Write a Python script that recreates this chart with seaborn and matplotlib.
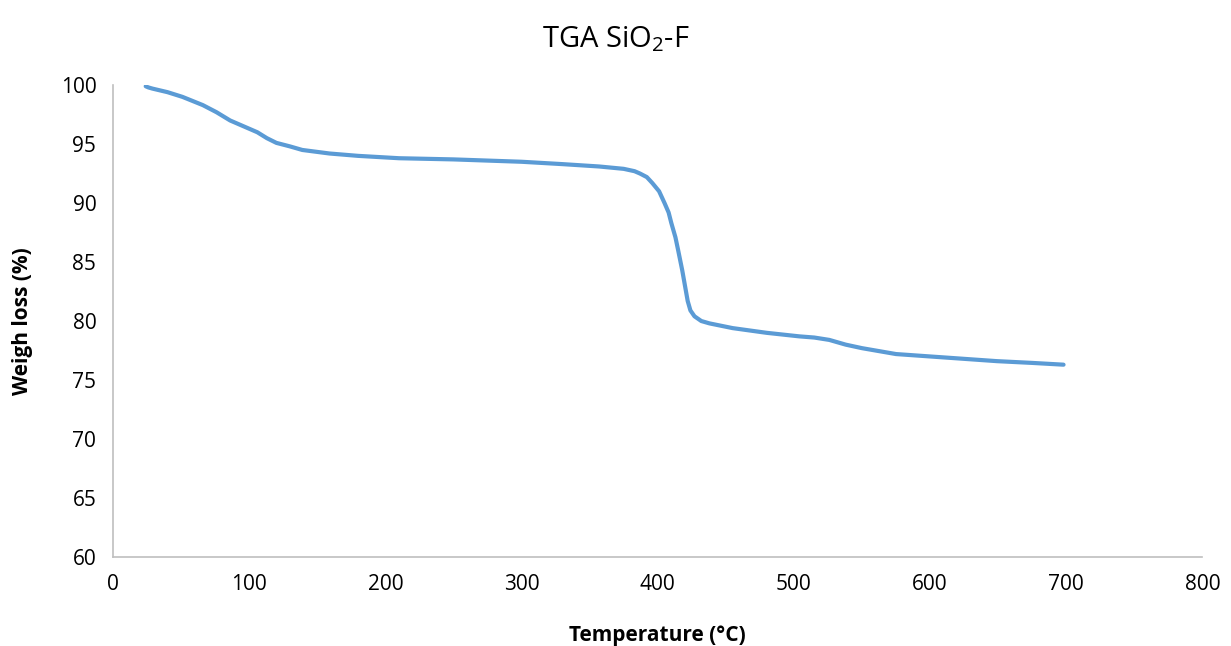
import numpy as np
import pandas as pd
import seaborn as sns
import matplotlib.pyplot as plt

temperature = [24, 26, 29, 40, 51, 66, 76, 86, 96, 106, 113, 120, 130, 139, 149, 159, 180, 210, 250,
               300, 330, 357, 375, 383, 387, 392, 396, 401, 405, 408, 410, 413, 415, 418, 420,
               422, 424, 427, 432, 438, 455, 480, 504, 515, 526, 538, 550, 575, 612, 649, 675, 698]
weight = [99.9, 99.8, 99.7, 99.4, 99.0, 98.3, 97.7, 97.0, 96.5, 96.0, 95.5, 95.1, 94.8, 94.5, 94.35,
          94.2, 94.0, 93.8, 93.7, 93.5, 93.3, 93.1, 92.9, 92.7, 92.5, 92.2, 91.7, 91.0, 90.0, 89.2,
          88.3, 87.1, 86.0, 84.3, 83.0, 81.7, 80.9, 80.4, 80.0, 79.8, 79.4, 79.0, 78.7, 78.6, 78.4,
          78.0, 77.7, 77.2, 76.9, 76.6, 76.45, 76.3]

df = pd.DataFrame({'Temperature': temperature, 'Weight': weight})

sns.set_style('white')
plt.rcParams['font.family'] = ['Open Sans', 'DejaVu Sans']
plt.rcParams['mathtext.default'] = 'regular'
plt.rcParams['text.color'] = 'black'
plt.rcParams['axes.labelcolor'] = 'black'
plt.rcParams['xtick.color'] = 'black'
plt.rcParams['ytick.color'] = 'black'

fig = plt.figure(figsize=(12.31, 6.46), dpi=100)
ax = fig.add_axes([0.0918, 0.1378, 0.885, 0.7305])
sns.lineplot(data=df, x='Temperature', y='Weight', ax=ax, color='#5B9BD5', linewidth=3)

ax.set_xlim(0, 800)
ax.set_ylim(60, 100)
ax.set_xticks(range(0, 801, 100))
ax.set_yticks(range(60, 101, 5))
ax.tick_params(axis='both', labelsize=15, length=0, pad=12)
for s in ['top', 'right']:
    ax.spines[s].set_visible(False)
for s in ['left', 'bottom']:
    ax.spines[s].set_color('#bfbfbf')
    ax.spines[s].set_linewidth(1.2)

ax.set_xlabel('Temperature (°C)', fontsize=15, fontweight='bold', labelpad=22)
ax.set_ylabel('Weigh loss (%)', fontsize=15, fontweight='bold', labelpad=20)
fig.suptitle('TGA SiO$_2$-F', fontsize=21, y=0.962)

fig.savefig('out.png', dpi=100)
